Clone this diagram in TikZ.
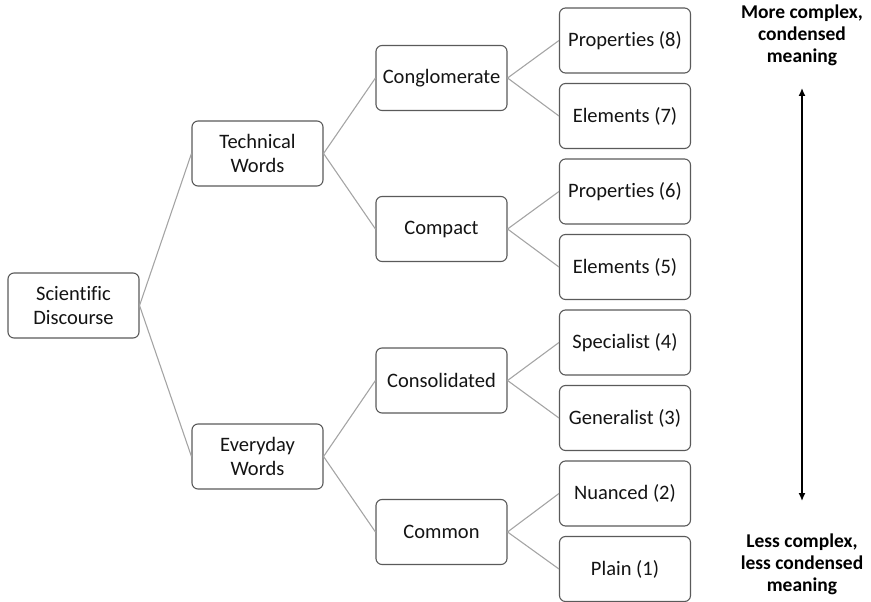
\documentclass[tikz,border=0pt]{standalone}
\usepackage{fontspec}
\setmainfont{Carlito}[Ligatures=NoCommon]
\usetikzlibrary{arrows.meta}
\definecolor{boxline}{RGB}{90,90,90}
\definecolor{conline}{RGB}{165,165,165}
\definecolor{txt}{RGB}{20,20,20}
\begin{document}
\begin{tikzpicture}[x=1pt,y=-1pt,
  box/.style={draw=boxline, line width=1.1pt, rounded corners=6pt, fill=white,
    minimum width=131pt, minimum height=65pt, inner sep=0pt, align=center,
    text=txt, font=\fontsize{20.5}{24}\selectfont},
  con/.style={draw=conline, line width=1.1pt},
  side/.style={align=center, font=\bfseries\fontsize{19.5}{22}\selectfont, text=black}]
\useasboundingbox (0,0) rectangle (871,602);
% level 1
\node[box] (sd) at (73.5,305.5) {Scientific\\Discourse};
% level 2
\node[box] (tw) at (257.5,153.5) {Technical\\Words};
\node[box] (ew) at (257.5,456.5) {Everyday\\Words};
% level 3
\node[box] (cg) at (441.5,78) {Conglomerate};
\node[box] (cp) at (441.5,229) {Compact};
\node[box] (cs) at (441.5,380.5) {Consolidated};
\node[box] (cm) at (441.5,532) {Common};
% leaves
\node[box] (l8) at (625,40.5) {Properties (8)};
\node[box] (l7) at (625,116) {Elements (7)};
\node[box] (l6) at (625,191.5) {Properties (6)};
\node[box] (l5) at (625,267) {Elements (5)};
\node[box] (l4) at (625,342.5) {Specialist (4)};
\node[box] (l3) at (625,418) {Generalist (3)};
\node[box] (l2) at (625,493.5) {Nuanced (2)};
\node[box] (l1) at (625,569) {Plain (1)};
% connectors
\draw[con] (sd.east) -- (tw.west);
\draw[con] (sd.east) -- (ew.west);
\draw[con] (tw.east) -- (cg.west);
\draw[con] (tw.east) -- (cp.west);
\draw[con] (ew.east) -- (cs.west);
\draw[con] (ew.east) -- (cm.west);
\draw[con] (cg.east) -- (l8.west);
\draw[con] (cg.east) -- (l7.west);
\draw[con] (cp.east) -- (l6.west);
\draw[con] (cp.east) -- (l5.west);
\draw[con] (cs.east) -- (l4.west);
\draw[con] (cs.east) -- (l3.west);
\draw[con] (cm.east) -- (l2.west);
\draw[con] (cm.east) -- (l1.west);
% side scale
\node[side] (top) at (802,35) {More complex,\\condensed\\meaning};
\node[side] (bot) at (802,564) {Less complex,\\less condensed\\meaning};
\coordinate (atop) at (802,88);
\coordinate (abot) at (802,501);
\draw[line width=1.4pt, {Latex[length=8pt,width=7pt]}-{Latex[length=8pt,width=7pt]}] (atop) -- (abot);
\end{tikzpicture}
\end{document}
